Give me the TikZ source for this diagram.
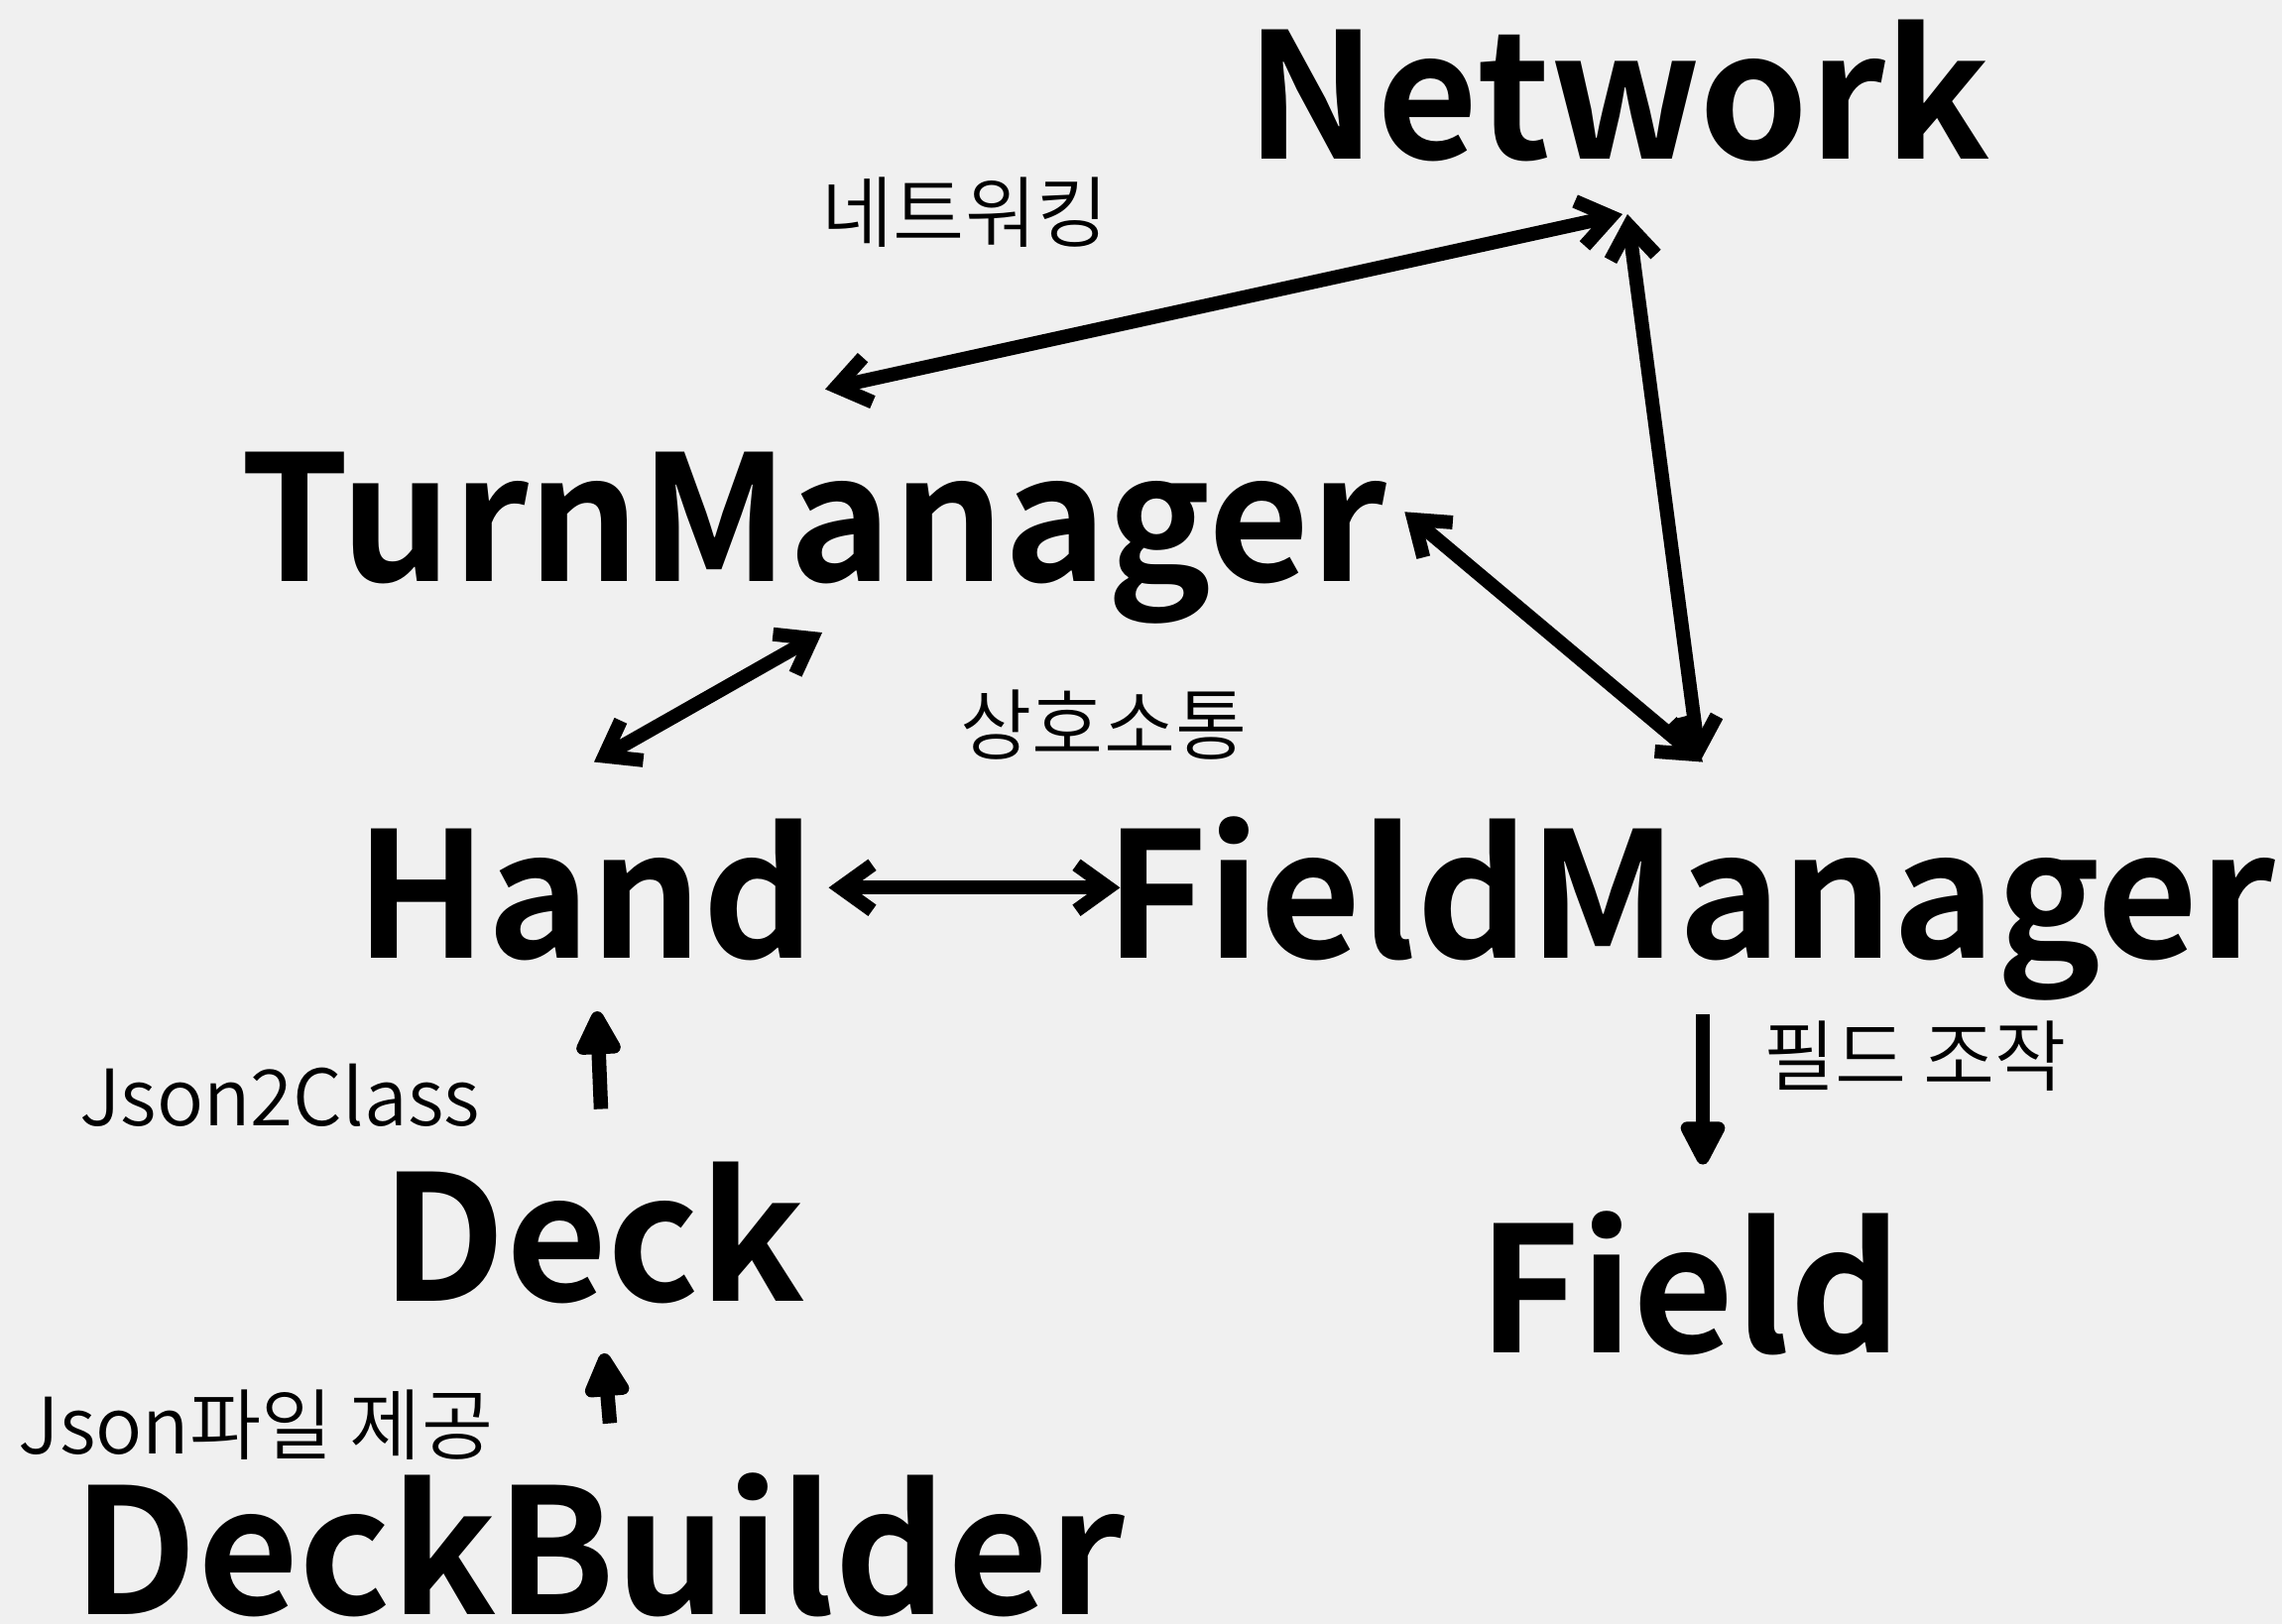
\documentclass[tikz,border=0pt]{standalone}
\usepackage{fontspec}
\setmainfont{Noto Sans CJK KR}[BoldFont={Noto Sans CJK KR Bold}]
\newfontfamily\notefont{Noto Sans CJK KR DemiLight}
\usetikzlibrary{arrows.meta}

\begin{document}
\begin{tikzpicture}[
  x=0.1mm, y=-0.1mm,
  part/.style={anchor=south, inner sep=0pt, text height=37pt, text depth=0pt, font=\fontsize{50.1}{56}\selectfont\bfseries},
  note/.style={anchor=base, inner sep=0pt, font=\fontsize{22.3}{26}\notefont},
  both/.style={{Straight Barb[length=3.2mm,width=4.6mm]}-{Straight Barb[length=3.2mm,width=4.6mm]}, line width=1.4mm},
  feed/.style={-{Triangle[length=5.2mm,width=4.9mm,round]}, line width=1.45mm}
]
\useasboundingbox (0,0) rectangle (2301,1638);
\fill[black!6] (0,0) rectangle (2301,1638);

\node[part] (net) at (1632,161) {Network};
\node[part] (tm) at (820,587) {TurnManager};
\node[part] (hand) at (590,967) {Hand};
\node[part] (fm) at (1704,967) {FieldManager};
\node[part] (deck) at (598,1313) {Deck};
\node[part] (field) at (1704,1365) {Field};
\node[part] (db) at (604,1629) {DeckBuilder};

\node[note] (netnote) at (973,243) {네트워킹};
\node[note] (talknote) at (1113,760) {상호소통};
\node[note] (fieldnote) at (1931,1094) {필드 조작};
\node[note] (jsonnote) at (282,1135) {Json2Class};
\node[note] (filenote) at (258,1466) {Json파일 제공};

\draw[both] ([shift={(4,55)}]net.south) -- ([shift={(12,-63)}]tm.north);
\draw[both] ([shift={(9,55)}]net.south) -- ([shift={(10,-67)}]fm.north);
\draw[both] ([shift={(18,-5)}]tm.east) -- ([shift={(13,-67)}]fm.north);
\draw[both] ([shift={(13,-6)}]hand.east) -- ([shift={(16,-6)}]fm.west);
\draw[both] ([shift={(9,51)}]tm.south) -- ([shift={(9,-67)}]hand.north);

\draw[feed] ([shift={(8,-63)}]deck.north) -- ([shift={(12,53)}]hand.south);
\draw[feed] ([shift={(11,-62)}]db.north) -- ([shift={(11,52)}]deck.south);
\draw[feed] ([shift={(13,56)}]fm.south) -- ([shift={(13,-59)}]field.north);

\end{tikzpicture}
\end{document}
